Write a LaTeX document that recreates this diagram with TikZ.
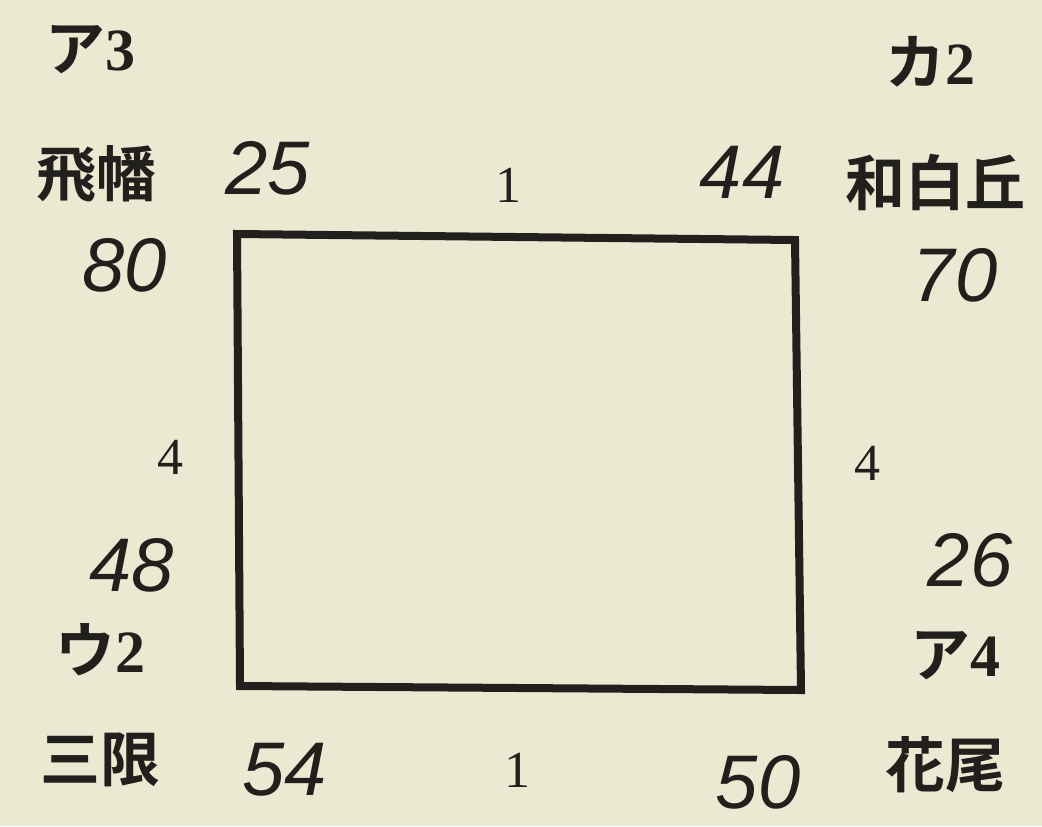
\documentclass[tikz,border=0pt]{standalone}
\usepackage{fontspec}
\setmainfont{Liberation Serif}
\newfontfamily\cjk{Noto Sans CJK JP}[BoldFont={* Bold}]
\newfontfamily\hand{Liberation Sans}
\definecolor{paper}{RGB}{236,233,211}
\definecolor{ink}{RGB}{34,32,28}
\tikzset{
  cj/.style={text=ink, inner sep=0pt, font=\cjk\bfseries\fontsize{30}{32}\selectfont},
  pr/.style={text=ink, inner sep=0pt, font=\fontsize{26}{30}\selectfont},
  hw/.style={text=ink, inner sep=0pt, font=\hand\itshape\fontsize{38}{40}\selectfont},
}
\begin{document}
\begin{tikzpicture}[x=0.5pt,y=-0.5pt]
\fill[paper] (0,0) rectangle (1042,826);
\useasboundingbox (0,0) rectangle (1042,826);
\coordinate (tl) at (237,234);
\coordinate (tr) at (795,240);
\coordinate (br) at (801,690);
\coordinate (bl) at (240,686);
\draw[ink, line width=4pt, line join=miter] (tl) -- (tr) -- (br) -- (bl) -- cycle;
% printed labels
\node[cj] (a3) at (90,50) {ア{\rmfamily 3}};
\node[cj] (k2) at (930,62) {カ{\rmfamily 2}};
\node[cj] (tobihata) at (96,174) {飛幡};
\node[cj] (wajiro) at (935,183) {和白丘};
\node[cj] (u2) at (100,650) {ウ{\rmfamily 2}};
\node[cj] (a4) at (955,656) {ア{\rmfamily 4}};
\node[cj] (sange) at (100,760) {三限};
\node[cj] (hanao) at (945,765) {花尾};
\node[pr] (top1) at (508,185) {1};
\node[pr] (bot1) at (517,770) {1};
\node[pr] (left4) at (170,457) {4};
\node[pr] (right4) at (867,463) {4};
% handwritten numbers
\node[hw] (n25) at (268,168) {25};
\node[hw] (n44) at (742,172) {44};
\node[hw] (n80) at (125,265) {80};
\node[hw] (n70) at (955,275) {70};
\node[hw] (n48) at (132,565) {48};
\node[hw] (n26) at (970,560) {26};
\node[hw] (n54) at (285,770) {54};
\node[hw] (n50) at (758,782) {50};
\end{tikzpicture}
\end{document}
